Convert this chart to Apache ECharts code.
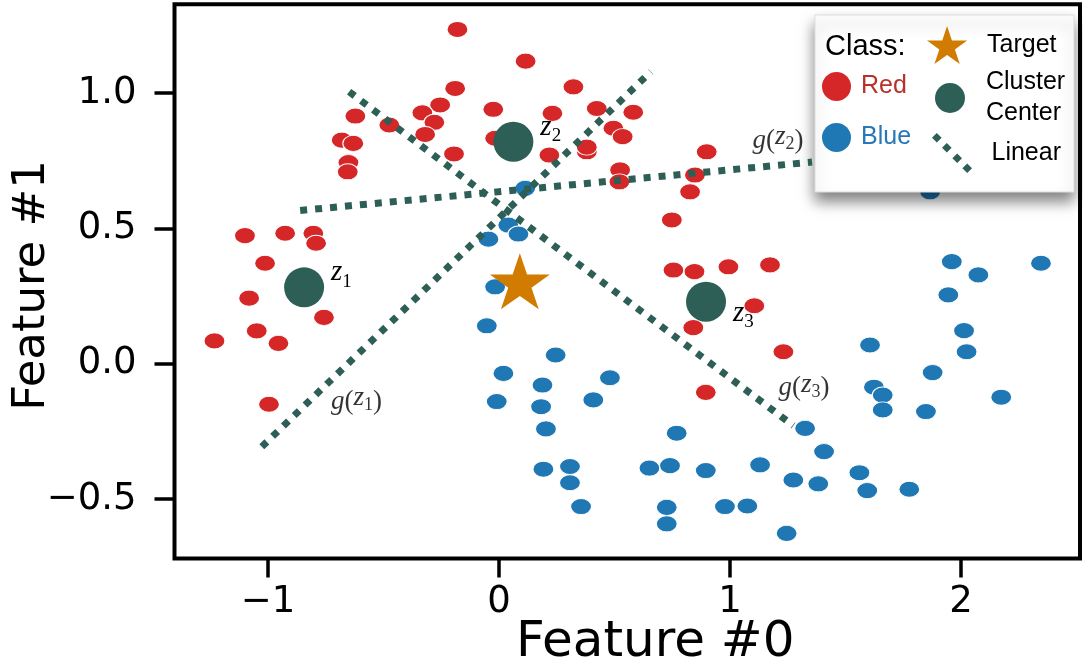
<!DOCTYPE html>
<html><head><meta charset="utf-8">
<script src="https://cdn.jsdelivr.net/npm/echarts@6/dist/echarts.min.js"></script>
<style>html,body{margin:0;padding:0;background:#fff}#c{width:1083px;height:666px}</style>
</head><body><div id="c"></div>
<script>
// ---- data ----
const redPoints = [
  [-0.18,1.235],[-0.19,1.017],[-0.255,0.956],[-0.332,0.927],[-0.28,0.892],[-0.32,0.847],
  [-0.195,0.775],[-0.475,0.882],[-0.622,0.915],[-0.681,0.826],[-0.631,0.814],[-0.652,0.743],
  [-0.655,0.709],[-0.025,0.94],[-0.017,0.833],[0.115,1.118],[0.322,1.023],[0.231,0.925],
  [0.423,0.943],[0.581,0.929],[0.495,0.87],[0.535,0.839],[0.218,0.771],[0.38,0.783],
  [0.38,0.8],[0.524,0.716],[0.521,0.672],[0.899,0.783],[0.848,0.697],[0.827,0.635],
  [0.748,0.531],[0.755,0.346],[0.846,0.34],[0.993,0.358],[1.173,0.365],[1.105,0.214],
  [0.841,0.133],[1.231,0.044],[0.895,-0.106],[-1.1,0.473],[-0.926,0.482],[-0.804,0.482],
  [-0.792,0.445],[-1.013,0.371],[-1.082,0.242],[-0.758,0.171],[-1.049,0.121],[-0.955,0.075],
  [-1.232,0.084],[-0.996,-0.15]
];
const bluePoints = [
  [0.113,0.648],[0.04,0.512],[0.084,0.479],[-0.046,0.46],[-0.017,0.284],[-0.053,0.14],
  [0.245,0.032],[0.019,-0.036],[0.48,-0.052],[0.188,-0.079],[-0.01,-0.14],[0.182,-0.159],
  [0.408,-0.134],[0.203,-0.241],[0.769,-0.257],[0.192,-0.39],[0.307,-0.38],[0.307,-0.44],
  [0.651,-0.386],[0.74,-0.377],[0.895,-0.395],[1.13,-0.374],[1.274,-0.43],[0.355,-0.528],
  [0.726,-0.531],[0.726,-0.592],[0.978,-0.528],[1.075,-0.526],[1.245,-0.627],[1.325,-0.239],
  [1.96,0.377],[2.075,0.328],[2.346,0.371],[1.945,0.254],[2.013,0.122],[2.024,0.044],
  [1.606,0.069],[1.877,-0.033],[1.623,-0.087],[1.661,-0.116],[1.661,-0.171],[1.848,-0.177],
  [2.174,-0.124],[1.407,-0.325],[1.382,-0.444],[1.56,-0.403],[1.594,-0.469],[1.776,-0.464],
  [1.866,0.635]
];
const clusterCenters = [[-0.844,0.282],[0.062,0.820],[0.896,0.229]];
const clusterIndex = ['1','2','3'];
const targetPoint = [0.09,0.305];
const linearLines = [
  [[-1.027,-0.307],[0.657,1.079]],
  [[-0.861,0.566],[1.355,0.745]],
  [[-0.649,1.005],[1.274,-0.229]]
];
const linearLabels = [[-0.617,-0.14],[1.208,0.824],[1.32,-0.091]];
const xTicks = [-1,0,1,2];
const yTicks = [-0.5,0,0.5,1.0];
const xRange = [-1.405,2.515];
const yRange = [-0.72,1.328];

// ---- styles ----
const RED='#d62728', BLUE='#1f77b4', GREEN='#2d5f56', ORANGE='#d17b00';
const STAR='path://M50,0 L61.8,35.4 L99,35.4 L69,57.3 L80.9,92.7 L50,70.8 L19.1,92.7 L31,57.3 L1,35.4 L38.2,35.4 Z';
const DIAMONDS='path://M12,0 L24,12 L12,24 L0,12 Z M37,25 L49,37 L37,49 L25,37 Z M63,51 L75,63 L63,75 L51,63 Z M88,76 L100,88 L88,100 L76,88 Z';
const minus = v => (v<0?'\u2212':'')+Math.abs(v);
const yFmt = v => (v<0?'\u2212':'')+Math.abs(v).toFixed(1);
const serifRich = {
  z:{fontFamily:'Liberation Serif',fontStyle:'italic',fontSize:29,color:'#000',padding:[0,0,9,0]},
  g:{fontFamily:'Liberation Serif',fontStyle:'italic',fontSize:27,color:'#000'},
  p:{fontFamily:'Liberation Serif',fontSize:27,color:'#000'},
  s:{fontFamily:'Liberation Serif',fontSize:19,color:'#000',padding:[9,0,0,0]}
};
const labelRich = Object.assign({},serifRich,{
  z:Object.assign({},serifRich.z,{fontSize:27,padding:[0,0,7,0]}),
  s:Object.assign({},serifRich.s,{fontSize:18,padding:[7,0,0,0]})
});
const centerOffsets=[[0,-10],[0,-10],[0,16]];

const chart = echarts.init(document.getElementById('c'),null,{renderer:'canvas'});
const legendText = {fontFamily:'Liberation Sans',fontSize:25,color:'#000'};
const lineSeries = linearLines.map(seg=>({
  name:'Linear',type:'line',data:seg,symbol:'none',silent:true,
  itemStyle:{color:GREEN},
  lineStyle:{color:GREEN,width:7,type:[7,8],cap:'butt'}
}));
chart.setOption({
  animation:false,
  grid:{left:174.5,right:3,top:4.3,bottom:107.5,show:true,borderColor:'#000',borderWidth:4,containLabel:false,outerBoundsMode:'none'},
  xAxis:{type:'value',min:xRange[0],max:xRange[1],
    name:'Feature #0',nameLocation:'middle',nameGap:60,nameMoveOverlap:false,
    nameTextStyle:{fontFamily:'DejaVu Sans',fontSize:50,color:'#000',padding:[0,0,0,56]},
    axisLine:{show:false,onZero:false},splitLine:{show:false},
    axisTick:{show:true,customValues:xTicks,length:19,lineStyle:{color:'#000',width:3.5}},
    axisLabel:{customValues:xTicks,formatter:v=>minus(v),margin:25,fontFamily:'DejaVu Sans',fontSize:37,color:'#000'}
  },
  yAxis:{type:'value',min:yRange[0],max:yRange[1],
    name:'Feature #1',nameLocation:'middle',nameGap:120,nameMoveOverlap:false,
    nameTextStyle:{fontFamily:'DejaVu Sans',fontSize:45,color:'#000',padding:[0,8,0,0]},
    axisLine:{show:false,onZero:false},splitLine:{show:false},
    axisTick:{show:true,customValues:yTicks,length:20,lineStyle:{color:'#000',width:3.5}},
    axisLabel:{customValues:yTicks,formatter:yFmt,margin:38,fontFamily:'DejaVu Sans',fontSize:37,color:'#000'}
  },
  legend:[
    {data:[{name:'Red',textStyle:{color:'#b8312a'}}],left:822,top:72,padding:0,icon:'circle',itemWidth:29,itemHeight:29,selectedMode:false,
      textStyle:Object.assign({},legendText,{padding:[0,0,0,5]}),itemStyle:{borderWidth:0}},
    {data:[{name:'Blue',textStyle:{color:'#2878b8'}}],left:822,top:123,padding:0,icon:'circle',itemWidth:29,itemHeight:29,selectedMode:false,
      textStyle:Object.assign({},legendText,{padding:[0,0,0,5]}),itemStyle:{borderWidth:0}},
    {data:['Target'],left:927,top:26,padding:0,icon:STAR,itemWidth:46,itemHeight:38,selectedMode:false,
      textStyle:Object.assign({},legendText,{padding:[0,0,0,12]}),itemStyle:{borderWidth:0}},
    {data:['Cluster Center'],left:935,top:67,padding:0,icon:'circle',itemWidth:30,itemHeight:30,selectedMode:false,
      formatter:()=> 'Cluster\nCenter',
      textStyle:Object.assign({},legendText,{padding:[0,0,0,16],lineHeight:31}),itemStyle:{borderWidth:0}},
    {data:[{name:'Linear',itemStyle:{color:GREEN}}],left:932,top:133,padding:0,icon:DIAMONDS,itemWidth:41,itemHeight:40,selectedMode:false,
      textStyle:Object.assign({},legendText,{padding:[0,0,0,14]}),itemStyle:{borderWidth:0}}
  ],
  graphic:[
    {type:'rect',z:3,shape:{x:815,y:15,width:259,height:177},
      style:{fill:'#fff',stroke:'#dddddd',lineWidth:1,shadowBlur:14,shadowOffsetY:9,shadowColor:'rgba(0,0,0,0.5)'}},
    {type:'text',z:5,x:825,y:47,style:{text:'Class:',fontFamily:'Liberation Sans',fontSize:29,fill:'#000',verticalAlign:'middle'}}
  ],
  series:[
    {name:'Red',type:'scatter',data:redPoints,symbol:'circle',symbolSize:[21,16],
      itemStyle:{color:RED,borderColor:'#fff',borderWidth:1,opacity:1}},
    {name:'Blue',type:'scatter',data:bluePoints,symbol:'circle',symbolSize:[21,16],
      itemStyle:{color:BLUE,borderColor:'#fff',borderWidth:1,opacity:1}},
    ...lineSeries,
    {name:'Cluster Center',type:'scatter',symbol:'circle',symbolSize:40,
      itemStyle:{color:GREEN,opacity:1},
      data:clusterCenters.map((c,i)=>({value:c,name:clusterIndex[i],
        label:{show:true,position:'right',distance:7,offset:centerOffsets[i],
          formatter:'{z|z}{s|'+clusterIndex[i]+'}',rich:serifRich}}))},
    {name:'Target',type:'scatter',symbol:STAR,symbolSize:[60,56],symbolKeepAspect:false,
      itemStyle:{color:ORANGE,opacity:1},data:[targetPoint]},
    {name:'labels',type:'scatter',symbolSize:1,itemStyle:{color:'rgba(0,0,0,0)'},silent:true,
      data:linearLabels.map((p,i)=>({value:p,label:{show:true,position:'inside',
        formatter:'{g|g}{p|(}{z|z}{s|'+clusterIndex[i]+'}{p|)}',rich:labelRich}}))}
  ]
});
</script></body></html>
